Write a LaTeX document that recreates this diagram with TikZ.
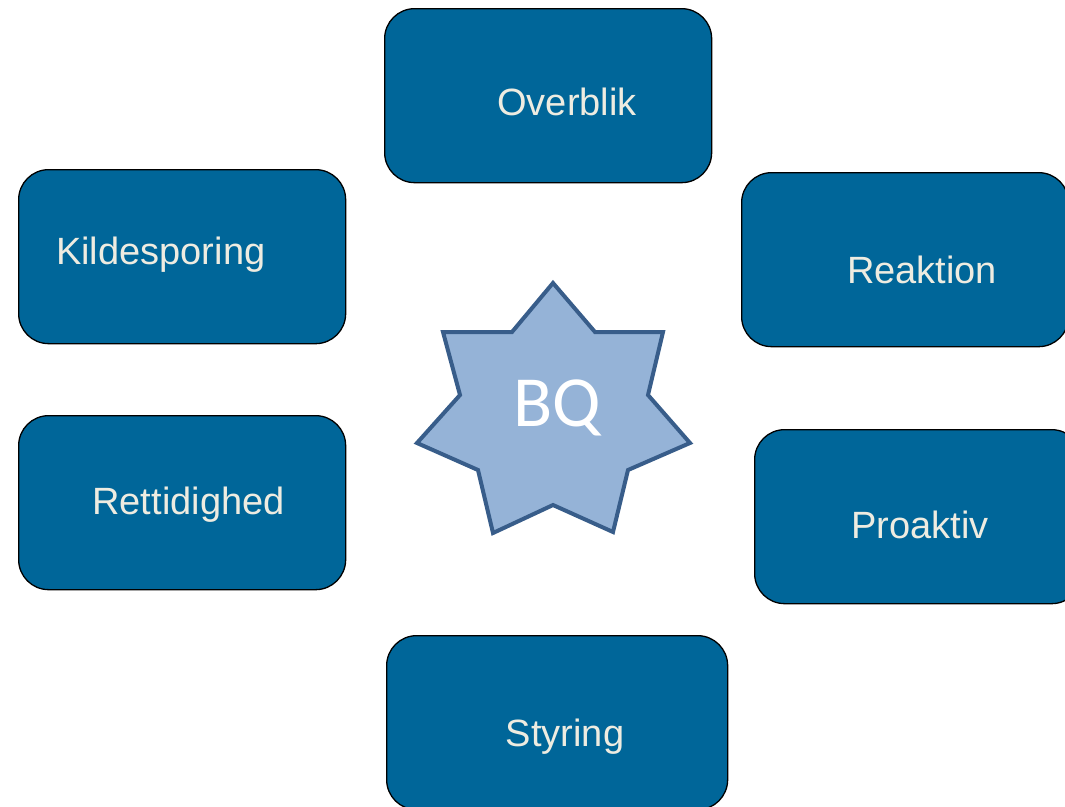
\documentclass[tikz,border=0pt]{standalone}
\usepackage{fontspec}
\setmainfont{Liberation Sans}
\newfontfamily\bqfont{Carlito}
\definecolor{boxblue}{RGB}{0,102,153}
\definecolor{boxtext}{RGB}{238,236,225}
\definecolor{starfill}{RGB}{149,179,215}
\definecolor{starline}{RGB}{56,93,138}
\begin{document}
\begin{tikzpicture}[x=1pt,y=-1pt,
  box/.style={draw=black, line width=1.3pt, fill=boxblue, rounded corners=30pt,
    minimum width=#1, minimum height=174pt, inner sep=0pt, anchor=north west},
  box/.default=327pt,
  boxlabel/.style={text=boxtext, font=\fontsize{38}{44}\selectfont, inner sep=0pt,
    text height=27.2pt, text depth=0pt}]
  \useasboundingbox (0,0) rectangle (1065,806);
  \clip (0,0) rectangle (1065,806);
  \fill[white] (0,0) rectangle (1065,806);

  % boxes
  \node[box] (overblik) at (384,8) {};
  \node[box] (kilde) at (18,169) {};
  \node[box] (reaktion) at (741,172) {};
  \node[box] (retti) at (18,415) {};
  \node[box] (proaktiv) at (754,429) {};
  \node[box=341pt] (styring) at (386,635) {};

  % labels (anchored on the middle of the capitals)
  \node[boxlabel] (tOverblik) at (567,102) {Overblik};
  \node[boxlabel, anchor=west] (tKilde) at (56,251) {Kildesporing};
  \node[boxlabel] (tReaktion) at (922,270) {Reaktion};
  \node[boxlabel] (tRetti) at (188.5,501) {Rettidighed};
  \node[boxlabel] (tProaktiv) at (920,525) {Proaktiv};
  \node[boxlabel] (tStyring) at (565,733) {Styring};

  % central seven-pointed star
  \draw[starline, fill=starfill, line width=4pt, line join=miter]
    (553,283) -- (595,332) -- (663,332) -- (648,395) -- (690,443) -- (628,470)
    -- (613,532) -- (553,505) -- (493,533) -- (478,470) -- (417,443) -- (460,395)
    -- (443,332) -- (512,332) -- cycle;
  \node[text=white, font=\bqfont\fontsize{72}{80}\selectfont, inner sep=0pt,
    text height=46pt, text depth=0pt] (bq) at (557,403.5) {BQ};
\end{tikzpicture}
\end{document}
